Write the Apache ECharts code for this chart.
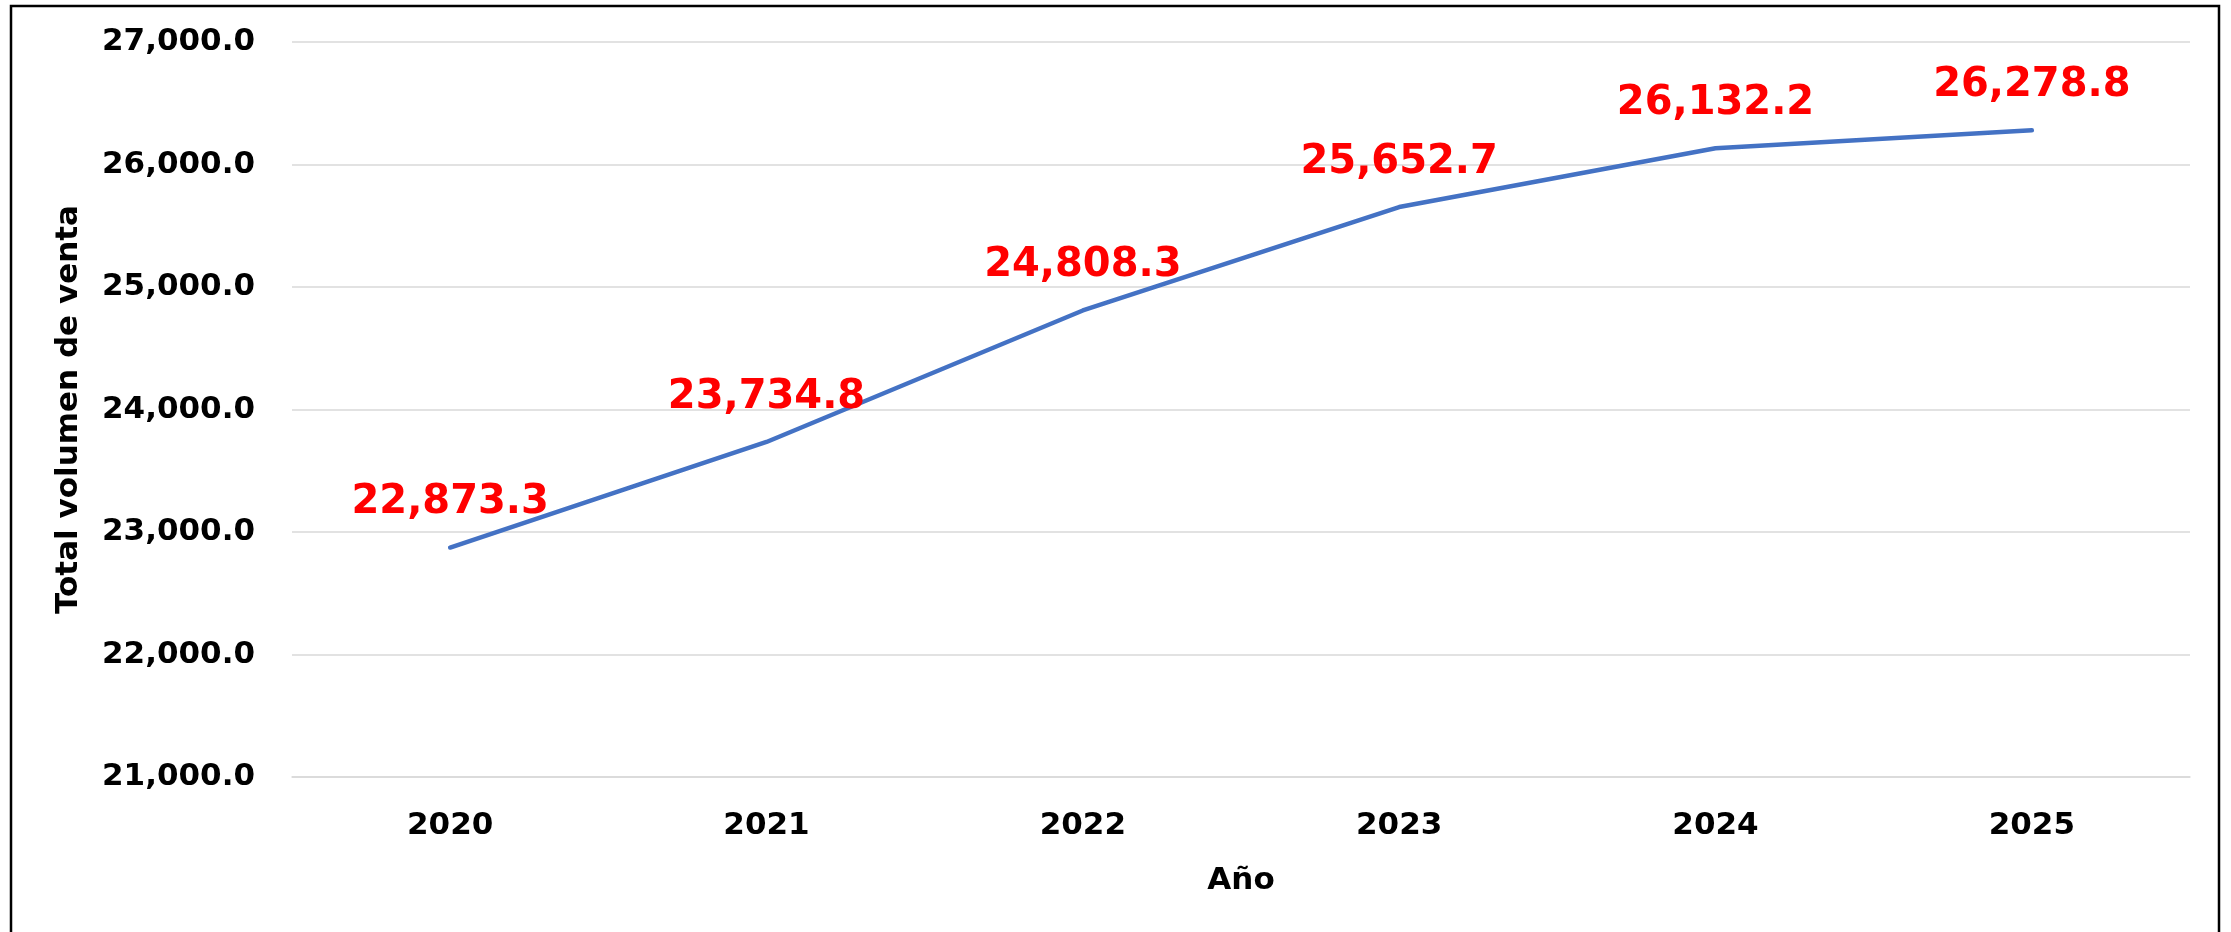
<!DOCTYPE html>
<html>
<head>
<meta charset="utf-8">
<style>
  html, body { margin: 0; padding: 0; background: #ffffff; }
  #chart { width: 2231px; height: 932px; }
</style>
<script src="https://cdn.jsdelivr.net/npm/echarts@6/dist/echarts.min.js"></script>
</head>
<body>
<div id="chart"></div>
<script>
// Annual sales volume, 2020-2025
const years = ['2020', '2021', '2022', '2023', '2024', '2025'];
const salesVolume = [22873.3, 23734.8, 24808.3, 25652.7, 26132.2, 26278.8];
const yAxisTitle = 'Total volumen de venta';
const xAxisTitle = 'Año';

const FONT = '"DejaVu Sans", sans-serif';

function fmt(v) {
  return Number(v).toLocaleString('en-US', { minimumFractionDigits: 1, maximumFractionDigits: 1 });
}

const chart = echarts.init(document.getElementById('chart'), null, { renderer: 'canvas' });

chart.setOption({
  backgroundColor: '#ffffff',
  animation: false,
  graphic: [{
    type: 'rect',
    shape: { x: 11, y: 6, width: 2208, height: 960 },
    style: { fill: 'none', stroke: '#000000', lineWidth: 2.5 },
    silent: true,
    z: 100
  }],
  grid: { left: 292, right: 41, top: 42, bottom: 155, containLabel: false },
  xAxis: {
    type: 'category',
    data: years,
    boundaryGap: true,
    name: xAxisTitle,
    nameLocation: 'middle',
    nameGap: 88,
    nameTextStyle: { fontFamily: FONT, fontWeight: 'bold', fontSize: 31, color: '#000000' },
    axisLine: { show: true, lineStyle: { color: '#D9D9D9', width: 1.5 } },
    axisTick: { show: false },
    axisLabel: { margin: 33, fontFamily: FONT, fontWeight: 'bold', fontSize: 31, color: '#000000' }
  },
  yAxis: {
    type: 'value',
    min: 21000,
    max: 27000,
    interval: 1000,
    name: yAxisTitle,
    nameLocation: 'middle',
    nameGap: 208,
    nameTextStyle: { fontFamily: FONT, fontWeight: 'bold', fontSize: 31, color: '#000000' },
    axisLine: { show: false },
    axisTick: { show: false },
    axisLabel: { margin: 37, fontFamily: FONT, fontWeight: 'bold', fontSize: 31, color: '#000000', formatter: fmt },
    splitLine: { show: true, lineStyle: { color: '#D9D9D9', width: 1.5 } }
  },
  series: [{
    type: 'line',
    data: salesVolume,
    showSymbol: true,
    symbol: 'circle',
    symbolSize: 1,
    lineStyle: { color: '#4472C4', width: 4.5, cap: 'round', join: 'round' },
    itemStyle: { color: '#4472C4' },
    label: {
      show: true,
      position: 'top',
      distance: 24,
      formatter: p => fmt(p.value),
      fontFamily: FONT,
      fontWeight: 'bold',
      fontSize: 40,
      color: '#FF0000'
    }
  }]
});
</script>
</body>
</html>
